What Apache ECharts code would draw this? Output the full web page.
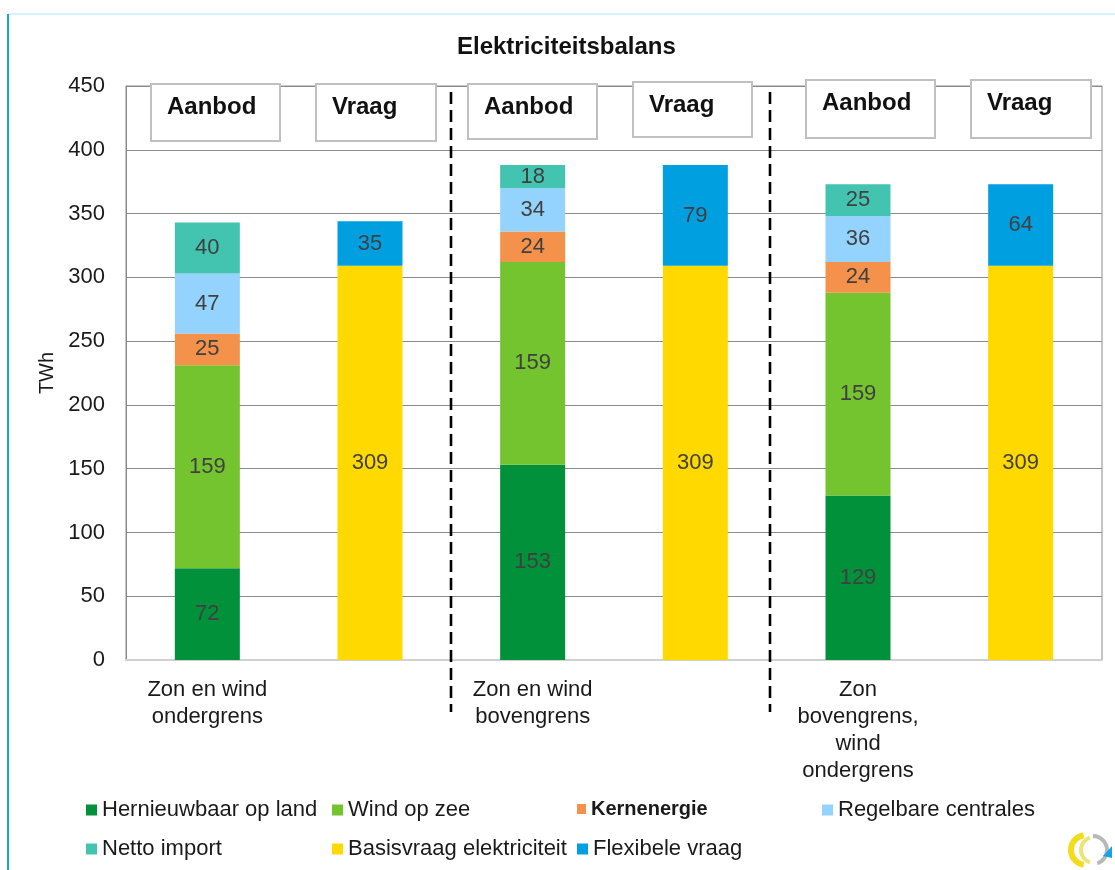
<!DOCTYPE html>
<html>
<head>
<meta charset="utf-8">
<title>Elektriciteitsbalans</title>
<script src="https://cdn.jsdelivr.net/npm/echarts@6/dist/echarts.min.js"></script>
<style>
  html, body { margin: 0; padding: 0; background: #fff; }
  #main { width: 1115px; height: 870px; }
</style>
</head>
<body>
<div id="main"></div>
<script>
// scenario labels (one per Aanbod/Vraag pair)
const scenarios = ['Zon en wind\nondergrens', 'Zon en wind\nbovengrens', 'Zon\nbovengrens,\nwind\nondergrens'];
const sides = ['Aanbod', 'Vraag'];
const yTicks = [0, 50, 100, 150, 200, 250, 300, 350, 400, 450];

// Aanbod (supply), TWh
const hernieuwbaarOpLand = [72, 153, 129];
const windOpZee = [159, 159, 159];
const kernenergie = [25, 24, 24];
const regelbareCentrales = [47, 34, 36];
const nettoImport = [40, 18, 25];
// Vraag (demand), TWh
const basisvraag = [309, 309, 309];
const flexibeleVraag = [35, 79, 64];

const FONT = '"Liberation Sans", Arial, sans-serif';

// six bars: Aanbod/Vraag for every scenario
const categories = [];
scenarios.forEach((s, i) => sides.forEach(side => categories.push(i + '|' + side)));

const onSide = (values, side) => categories.map(c => {
  const [i, sd] = c.split('|');
  return sd === side ? values[+i] : null;
});

const seriesDefs = [
  { name: 'Hernieuwbaar op land', values: hernieuwbaarOpLand, side: 'Aanbod', color: '#00913a' },
  { name: 'Wind op zee', values: windOpZee, side: 'Aanbod', color: '#74c42f' },
  { name: 'Kernenergie', values: kernenergie, side: 'Aanbod', color: '#f4914a' },
  { name: 'Regelbare centrales', values: regelbareCentrales, side: 'Aanbod', color: '#93d3fd' },
  { name: 'Netto import', values: nettoImport, side: 'Aanbod', color: '#43c4b1' },
  { name: 'Basisvraag elektriciteit', values: basisvraag, side: 'Vraag', color: '#ffd900' },
  { name: 'Flexibele vraag', values: flexibeleVraag, side: 'Vraag', color: '#009fe0' }
];

const series = seriesDefs.map(d => ({
  name: d.name,
  type: 'bar',
  stack: 'balans',
  barWidth: 65,
  data: onSide(d.values, d.side),
  itemStyle: { color: d.color },
  label: {
    show: true,
    position: 'inside',
    color: '#404040',
    fontSize: 22,
    fontFamily: FONT
  },
  emphasis: { disabled: true }
}));

// legend laid out as a grid, one component per entry
const legendSlots = [
  { left: 86, top: 799 }, { left: 332, top: 799 }, { left: 577, top: 799 }, { left: 822, top: 799 },
  { left: 86, top: 838 }, { left: 332, top: 838 }, { left: 577, top: 838 }
];
const legends = seriesDefs.map((d, i) => {
  const narrow = d.name === 'Kernenergie';
  return {
    data: [d.name],
    left: legendSlots[i].left,
    top: legendSlots[i].top,
    padding: 0,
    icon: 'rect',
    itemWidth: narrow ? 9 : 11,
    itemHeight: narrow ? 10 : 11,
    itemGap: 0,
    selectedMode: false,
    textStyle: narrow
      ? { fontSize: 20, color: '#1a1a1a', fontWeight: 'bold', fontFamily: '"Liberation Sans Narrow", "Arial Narrow", "Liberation Sans", sans-serif' }
      : { fontSize: 22, color: '#1a1a1a', fontFamily: FONT }
  };
});

// Aanbod / Vraag header boxes
const boxes = [
  { x: 151, y: 84, w: 129, h: 57 }, { x: 316, y: 84, w: 120, h: 57 },
  { x: 468, y: 84, w: 129, h: 55 }, { x: 633, y: 82, w: 119, h: 55 },
  { x: 806, y: 80, w: 129, h: 58 }, { x: 971, y: 80, w: 120, h: 58 }
];
const boxGraphics = [];
boxes.forEach((b, i) => {
  boxGraphics.push({
    type: 'rect', z: 100,
    shape: { x: b.x, y: b.y, width: b.w, height: b.h },
    style: { fill: '#fff', stroke: '#c0c0c0', lineWidth: 2 }
  });
  boxGraphics.push({
    type: 'text', z: 101,
    x: b.x + 16, y: b.y + 23,
    style: {
      text: sides[i % 2], fill: '#111', font: 'bold 24px ' + FONT,
      verticalAlign: 'middle', align: 'left'
    }
  });
});

const dashedLines = [451, 770].map(x => ({
  type: 'line', z: 102,
  shape: { x1: x, y1: 92, x2: x, y2: 712 },
  style: { stroke: '#000', lineWidth: 2.6, lineDash: [12, 6] }
}));

const frame = [
  { type: 'line', shape: { x1: 8, y1: 14, x2: 1115, y2: 14 }, style: { stroke: '#c9eef9', lineWidth: 1.5 } },
  { type: 'line', shape: { x1: 8, y1: 14, x2: 8, y2: 870 }, style: { stroke: '#1aa0e6', lineWidth: 2 } }
];

const logo = [
  { type: 'arc', shape: { cx: 1086, cy: 850, r: 15, startAngle: Math.PI * 0.55, endAngle: Math.PI * 1.45 }, style: { stroke: '#f3dc1c', lineWidth: 6, fill: null } },
  { type: 'arc', shape: { cx: 1094, cy: 850, r: 13, startAngle: Math.PI * 0.6, endAngle: Math.PI * 1.4 }, style: { stroke: '#ece37a', lineWidth: 4, fill: null } },
  { type: 'arc', shape: { cx: 1093, cy: 850, r: 14, startAngle: Math.PI * 1.5, endAngle: Math.PI * 2.4 }, style: { stroke: '#b8b8b8', lineWidth: 4, fill: null } },
  { type: 'polygon', shape: { points: [[1103, 856], [1112, 846], [1112, 858]] }, style: { fill: '#1aa0e6' } }
];

const chart = echarts.init(document.getElementById('main'));
chart.setOption({
  backgroundColor: '#fff',
  animation: false,
  textStyle: { fontFamily: FONT },
  title: {
    text: 'Elektriciteitsbalans',
    left: 457, top: 35, padding: 0,
    textStyle: { fontSize: 24, fontWeight: 'bold', color: '#111', fontFamily: FONT }
  },
  legend: legends,
  grid: {
    left: 126, right: 13, top: 86, bottom: 210,
    show: true, borderColor: '#8c8c8c', borderWidth: 1, backgroundColor: 'transparent'
  },
  xAxis: {
    type: 'category',
    data: categories,
    axisTick: { show: false },
    axisLine: { lineStyle: { color: '#d0d0d0', width: 2 } },
    axisLabel: {
      interval: 0,
      margin: 16,
      fontSize: 22,
      lineHeight: 27,
      color: '#1a1a1a',
      fontFamily: FONT,
      formatter: v => {
        const [i, sd] = v.split('|');
        return sd === 'Aanbod' ? scenarios[+i] : '';
      }
    }
  },
  yAxis: {
    type: 'value',
    min: yTicks[0],
    max: yTicks[yTicks.length - 1],
    interval: yTicks[1] - yTicks[0],
    name: 'TWh',
    nameLocation: 'middle',
    nameRotate: 90,
    nameGap: 65,
    nameTextStyle: { fontSize: 20, color: '#1a1a1a', fontFamily: FONT },
    axisLine: { show: true, lineStyle: { color: '#8c8c8c', width: 1 } },
    axisTick: { show: false },
    axisLabel: { fontSize: 22, color: '#1a1a1a', margin: 21, fontFamily: FONT },
    splitLine: { lineStyle: { color: '#8c8c8c', width: 1.2 } }
  },
  series: series,
  graphic: [].concat(frame, boxGraphics, dashedLines, logo)
});
</script>
</body>
</html>
